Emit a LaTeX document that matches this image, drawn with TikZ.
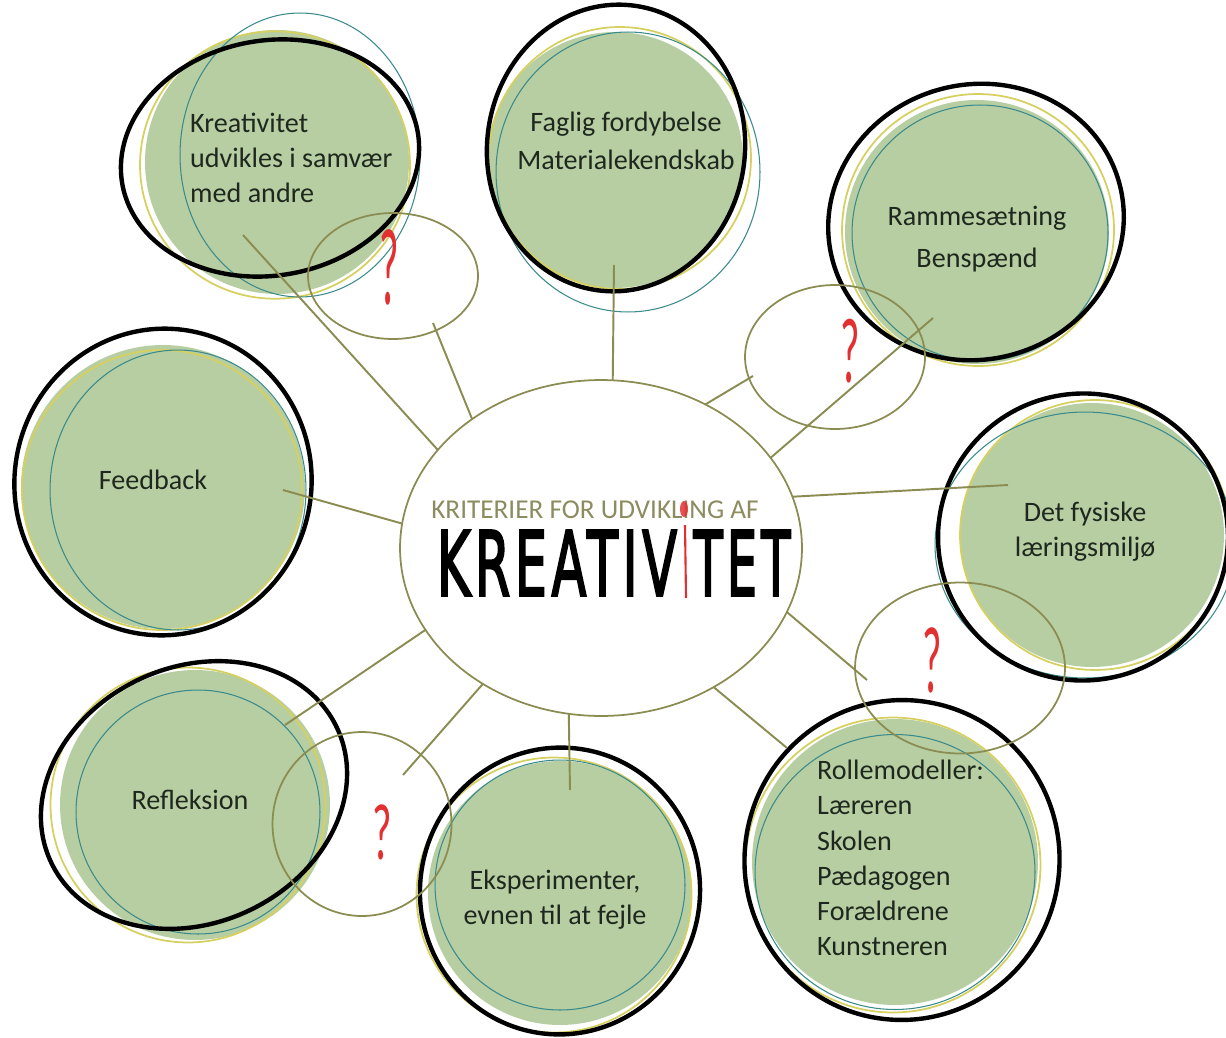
\documentclass[tikz,border=0pt]{standalone}
\usepackage{fontspec}
\setmainfont{Carlito}
\newfontfamily\handfont[LetterSpace=9,FakeBold=3]{DejaVu Sans}
\usetikzlibrary{shapes.geometric,positioning}
\definecolor{sage}{RGB}{183,206,162}
\definecolor{olive}{RGB}{138,140,82}
\definecolor{ringyellow}{RGB}{214,208,96}
\definecolor{ringteal}{RGB}{58,138,140}
\definecolor{inkred}{RGB}{226,48,48}
\definecolor{titlegray}{RGB}{140,140,96}
\definecolor{labelink}{RGB}{30,40,30}

\begin{document}
\begin{tikzpicture}[x=0.02cm,y=-0.02cm,
	disk/.style={circle,fill=sage,inner sep=0pt},
	ring/.style={ellipse,inner sep=0pt,outer sep=0pt},
	yring/.style={ring,draw=ringyellow,line width=1pt},
	tring/.style={ring,draw=ringteal,line width=0.6pt},
	bring/.style={ring,draw=black,line width=2.5pt},
	qring/.style={ring,draw=olive,line width=1pt},
	link/.style={draw=olive,line width=1.1pt},
	lbl/.style={font=\fontsize{16}{20}\selectfont,text=labelink,align=center},
	qmark/.style={text=inkred,font=\fontsize{24}{24}\selectfont,inner sep=0pt}]
	\useasboundingbox (0,0) rectangle (1226,1037);

	% green disks
	\node[disk,minimum size=5.28cm] (krea) at (277,162) {};
	\node[disk,minimum size=5.12cm] (faglig) at (615,160) {};
	\node[disk,minimum size=5.28cm] (ramme) at (977,232) {};
	\node[disk,minimum size=5.68cm] (feedback) at (163,487) {};
	\node[disk,minimum size=5.28cm] (fysisk) at (1092,535) {};
	\node[disk,minimum size=5.4cm] (refleks) at (195,805) {};
	\node[disk,minimum size=5.28cm] (eksp) at (560,893) {};
	\node[disk,minimum size=5.72cm] (rolle) at (895,862) {};

	% sketchy rings
	\node[yring,minimum width=5.4cm,minimum height=5.35cm] (krea-y) at ([shift={(-2,3)}]krea) {};
	\node[tring,minimum width=4.8cm,minimum height=5.68cm] (krea-t) at ([shift={(23,-7)}]krea) {};
	\node[bring,minimum width=6cm,minimum height=4.7cm,rotate=10] (krea-b) at ([shift={(-7,-4)}]krea) {};

	\node[yring,minimum size=5.24cm] (faglig-y) at ([shift={(5,-2)}]faglig) {};
	\node[tring,minimum width=5.28cm,minimum height=5.6cm] (faglig-t) at ([shift={(13,12)}]faglig) {};
	\node[bring,minimum width=5.16cm,minimum height=5.74cm,rotate=-6] (faglig-b) at ([shift={(1,-12)}]faglig) {};

	\node[yring,minimum size=5.44cm] (ramme-y) at ([shift={(1,-2)}]ramme) {};
	\node[tring,minimum size=5.12cm] (ramme-t) at ([shift={(3,1)}]ramme) {};
	\node[bring,minimum width=5.94cm,minimum height=5.5cm,rotate=15] (ramme-b) at ([shift={(-1,-10)}]ramme) {};

	\node[yring,minimum size=5.6cm] (feedback-y) at ([shift={(-1,3)}]feedback) {};
	\node[tring,minimum width=5.12cm,minimum height=5.6cm] (feedback-t) at ([shift={(15,3)}]feedback) {};
	\node[bring,minimum width=5.94cm,minimum height=6.14cm,rotate=-10] (feedback-b) at ([shift={(0,-5)}]feedback) {};

	\node[yring,minimum size=5.4cm] (fysisk-y) at ([shift={(3,0)}]fysisk) {};
	\node[tring,minimum width=6cm,minimum height=5.32cm] (fysisk-t) at ([shift={(-7,10)}]fysisk) {};
	\node[bring,minimum width=5.8cm,minimum height=5.74cm,rotate=8] (fysisk-b) at ([shift={(-9,2)}]fysisk) {};

	\node[yring,minimum size=5.5cm] (refleks-y) at ([shift={(-7,0)}]refleks) {};
	\node[tring,minimum size=4.88cm] (refleks-t) at ([shift={(3,7)}]refleks) {};
	\node[bring,minimum width=6.32cm,minimum height=5.12cm,rotate=25] (refleks-b) at ([shift={(-1,-10)}]refleks) {};

	\node[yring,minimum size=5.5cm] (eksp-y) at ([shift={(-6,2)}]eksp) {};
	\node[tring,minimum size=5cm] (eksp-t) at ([shift={(0,-8)}]eksp) {};
	\node[bring,minimum width=5.6cm,minimum height=5.74cm,rotate=-8] (eksp-b) at ([shift={(0,-2)}]eksp) {};

	\node[yring,minimum size=5.9cm] (rolle-y) at ([shift={(-2,3)}]rolle) {};
	\node[tring,minimum width=5.6cm,minimum height=5.5cm] (rolle-t) at ([shift={(0,10)}]rolle) {};
	\node[bring,minimum width=6.3cm,minimum height=6.4cm,rotate=-8] (rolle-b) at ([shift={(7,-2)}]rolle) {};

	% centre and question circles
	\node[qring,minimum width=8.04cm,minimum height=6.72cm] (kern) at (601,548) {};
	\node[qring,minimum width=3.4cm,minimum height=2.52cm] (qa) at (393,276) {};
	\node[qring,minimum width=3.6cm,minimum height=2.88cm] (qb) at (835,357) {};
	\node[qring,minimum width=4.2cm,minimum height=3.42cm] (qc) at (960,668) {};
	\node[qring,minimum width=3.58cm,minimum height=3.68cm] (qd) at (362,824) {};

	% free ends of the spokes
	\coordinate (krea-end) at (243,235);
	\coordinate (qa-end) at (433,323);
	\coordinate (faglig-end) at (614,265);
	\coordinate (ramme-end) at (933,318);
	\coordinate (qb-end) at (753,376);
	\coordinate (feedback-end) at (283,490);
	\coordinate (fysisk-end) at (1008,485);
	\coordinate (qc-end) at (867,680);
	\coordinate (rolle-end) at (787,748);
	\coordinate (eksp-end) at (570,790);
	\coordinate (qd-end) at (403,775);
	\coordinate (refleks-end) at (285,725);

	\draw[link] (krea-end) -- (kern.149);
	\draw[link] (qa-end) -- (kern.135);
	\draw[link] (faglig-end) -- (kern.86);
	\draw[link] (ramme-end) -- (kern.28);
	\draw[link] (qb-end) -- (kern.54);
	\draw[link] (feedback-end) -- (kern.173);
	\draw[link] (fysisk-end) -- (kern.15);
	\draw[link] (qc-end) -- (kern.-19);
	\draw[link] (rolle-end) -- (kern.-51);
	\draw[link] (eksp-end) -- (kern.-101);
	\draw[link] (qd-end) -- (kern.-131);
	\draw[link] (refleks-end) -- (kern.-155);

	% labels
	\node[lbl,align=left,anchor=west] (krea-txt) at (184,158) {Kreativitet\\udvikles i samvær\\med andre};
	\node[lbl,font=\fontsize{16}{21.5}\selectfont] (faglig-txt) at (626,141) {Faglig fordybelse\\Materialekendskab};
	\node[lbl,font=\fontsize{16}{23.8}\selectfont] (ramme-txt) at (977,239) {Rammesætning\\Benspænd};
	\node[lbl] (feedback-txt) at (153,480) {Feedback};
	\node[lbl] (fysisk-txt) at (1085,532) {Det fysiske\\læringsmiljø};
	\node[lbl] (refleks-txt) at (190,800) {Refleksion};
	\node[lbl] (eksp-txt) at (555,900) {Eksperimenter,\\evnen til at fejle};
	\node[lbl,align=left,anchor=west] (rolle-txt) at (811,858) {Rollemodeller:\\Læreren\\Skolen\\Pædagogen\\Forældrene\\Kunstneren};

	% title in the centre
	\node[text=titlegray,font=\fontsize{15.5}{18}\selectfont] (title) at (595,510) {KRITERIER FOR UDVIKLING AF};
	\fill[inkred,opacity=0.85] (684,509) ellipse [x radius=4,y radius=8];
	\node[inner sep=0pt,font=\handfont] (word-a) at (557,563) {\resizebox{4.8cm}{1.3cm}{KREATIV}};
	\node[inner sep=0pt,font=\handfont] (word-b) at (742,563) {\resizebox{1.94cm}{1.3cm}{TET}};
	\coordinate (red-top) at (685,525);
	\coordinate (red-bot) at (686,598);
	\draw[inkred,line width=1.2pt] (red-top) -- (red-bot);

	% question marks
	\node[qmark] (qa-mark) at (389,267) {\scalebox{1}[2.6]{?}};
	\node[qmark] (qb-mark) at (850,351) {\scalebox{1}[2.2]{?}};
	\node[qmark] (qc-mark) at (932,660) {\scalebox{1}[2.25]{?}};
	\node[qmark] (qd-mark) at (382,832) {\scalebox{1}[1.9]{?}};
\end{tikzpicture}
\end{document}
